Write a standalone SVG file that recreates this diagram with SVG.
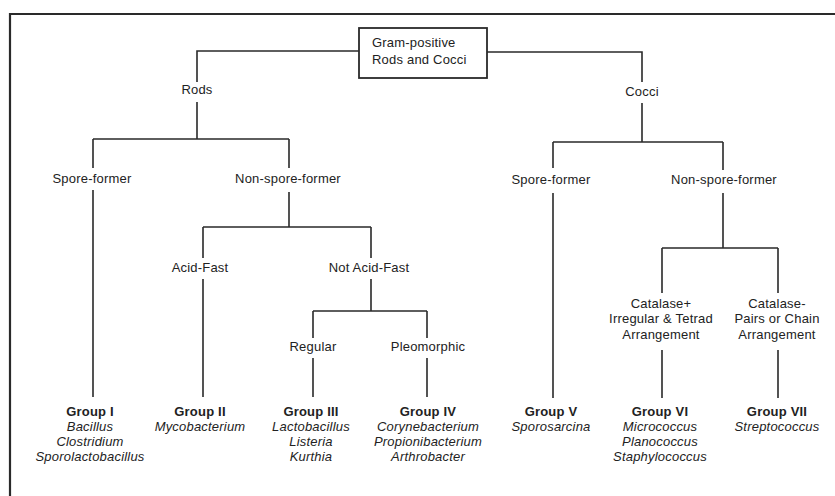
<svg xmlns="http://www.w3.org/2000/svg" width="835" height="496" viewBox="0 0 835 496">
<style>
text{font-family:"Liberation Sans",Arial,sans-serif;font-size:13px;fill:#222;text-anchor:middle;letter-spacing:0.2px}
.g{font-weight:bold}
.i{font-style:italic}
.l{text-anchor:start}
.ln{fill:none;stroke:#2a2a2a;stroke-width:1.6}
</style>
<rect width="835" height="496" fill="#fff"/>
<path d="M10,496 V14 H835" fill="none" stroke="#2a2a2a" stroke-width="2.2"/>
<g id="connectors" class="ln">
<path d="M359,51 H197 V82 M197,102 V139 M93,139 H289 M93,139 V168 M93,190 V397 M289,139 V168 M289,192 V227 M203,227 H371 M203,227 V258 M203,279 V397 M371,227 V258 M371,279 V311 M313,311 H427 M313,311 V338 M313,358 V397 M427,311 V338 M427,358 V397"/>
<path d="M487,52 H642 V82 M642,103 V142 M553,142 H723 M553,142 V168 M553,193 V398 M723,142 V170 M723,193 V248 M662,248 H778 M662,248 V293 M778,248 V293 M662,350 V398 M778,350 V398"/>
</g>
<g id="root"><rect x="359" y="28" width="128" height="50" fill="#fff" stroke="#2a2a2a" stroke-width="1.8"/><text class="l" x="372" y="47">Gram-positive</text><text class="l" x="372" y="64">Rods and Cocci</text></g>
<g id="rods"><text x="197" y="94">Rods</text></g>
<g id="cocci"><text x="642" y="96">Cocci</text></g>
<g id="rods-spore"><text x="92" y="183">Spore-former</text></g>
<g id="rods-nonspore"><text x="288" y="183">Non-spore-former</text></g>
<g id="cocci-spore"><text x="551" y="184">Spore-former</text></g>
<g id="cocci-nonspore"><text x="724" y="184">Non-spore-former</text></g>
<g id="acid-fast"><text x="200" y="272">Acid-Fast</text></g>
<g id="not-acid-fast"><text x="369" y="272">Not Acid-Fast</text></g>
<g id="regular"><text x="313" y="351">Regular</text></g>
<g id="pleomorphic"><text x="428" y="351">Pleomorphic</text></g>
<g id="catalase-pos"><text x="661" y="308">Catalase+</text><text x="661" y="323">Irregular &amp; Tetrad</text><text x="661" y="339">Arrangement</text></g>
<g id="catalase-neg"><text x="777" y="308">Catalase-</text><text x="777" y="323">Pairs or Chain</text><text x="777" y="339">Arrangement</text></g>
<g id="group1"><text class="g" x="90" y="416">Group I</text><text class="i" x="90" y="431">Bacillus</text><text class="i" x="90" y="446">Clostridium</text><text class="i" x="90" y="461">Sporolactobacillus</text></g>
<g id="group2"><text class="g" x="200" y="416">Group II</text><text class="i" x="200" y="431">Mycobacterium</text></g>
<g id="group3"><text class="g" x="311" y="416">Group III</text><text class="i" x="311" y="431">Lactobacillus</text><text class="i" x="311" y="446">Listeria</text><text class="i" x="311" y="461">Kurthia</text></g>
<g id="group4"><text class="g" x="428" y="416">Group IV</text><text class="i" x="428" y="431">Corynebacterium</text><text class="i" x="428" y="446">Propionibacterium</text><text class="i" x="428" y="461">Arthrobacter</text></g>
<g id="group5"><text class="g" x="551" y="416">Group V</text><text class="i" x="551" y="431">Sporosarcina</text></g>
<g id="group6"><text class="g" x="660" y="416">Group VI</text><text class="i" x="660" y="431">Micrococcus</text><text class="i" x="660" y="446">Planococcus</text><text class="i" x="660" y="461">Staphylococcus</text></g>
<g id="group7"><text class="g" x="777" y="416">Group VII</text><text class="i" x="777" y="431">Streptococcus</text></g>
</svg>
